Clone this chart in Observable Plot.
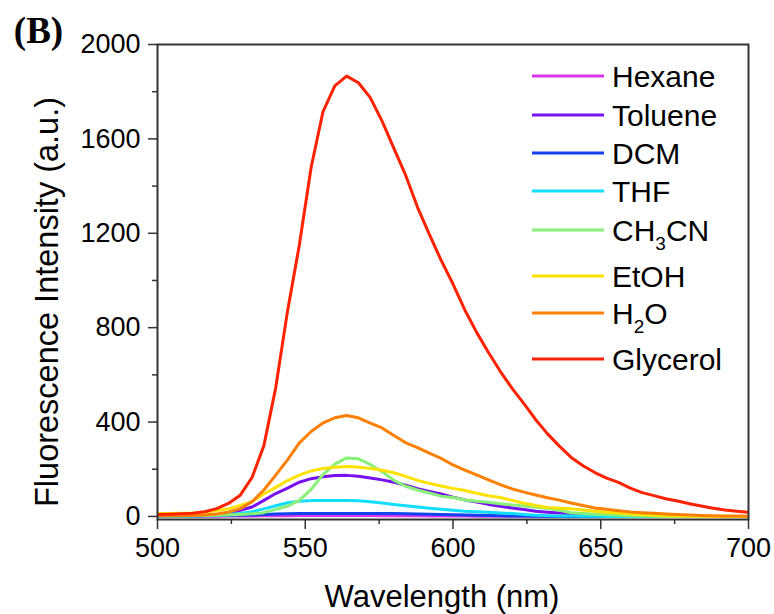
<!DOCTYPE html>
<html><head><meta charset="utf-8">
<script src="https://cdn.jsdelivr.net/npm/d3@7"></script>
<script src="https://cdn.jsdelivr.net/npm/@observablehq/plot@0.6"></script>
<style>
body{margin:0;background:#fff;}
#wrap{position:relative;width:774px;height:614px;}
</style>
</head><body><div id="wrap"></div>
<script>
const wavelengths = [500,504,508,512,516,520,524,528,532,536,540,544,548,552,556,560,564,568,572,576,580,584,588,592,596,600,604,608,612,616,620,624,628,632,636,640,644,648,652,656,660,664,668,672,676,680,684,688,692,696,700];
const hexane   = [0,0,1,1,1,1,2,2,2,3, 3,3,4,4,4,4,4,4,4,3, 3,3,3,2,2,2,2,1,1,1, 1,1,1,0,0,0,0,0,0,0, 0,0,0,0,0,0,0,0,0,0, 0];
const toluene  = [2,2,2,2,3,7,14,26,40,68, 97,120,145,160,168,173,174,170,163,155, 145,132,118,106,95,82,70,61,51,43, 36,29,22,18,15,12,9,7,5,4, 3,2,1,1,0,0,0,0,0,0, 0];
const dcm      = [2,2,2,2,3,3,4,5,6,8, 10,11,12,12,12,12,12,12,12,12, 12,11,10,9,8,7,6,5,4,3, 2,2,1,1,0,0,0,0,0,0, 0,0,0,0,0,0,0,0,0,0, 0];
const thf      = [1,1,1,2,3,5,8,12,20,32, 45,58,64,67,68,68,68,66,62,57, 51,45,40,35,30,26,22,20,18,15, 12,8,5,3,2,2,1,1,0,0, 0,0,0,0,0,0,0,0,0,0, 0];
const ch3cn    = [3,3,3,3,4,5,6,8,11,16, 30,44,68,115,177,222,248,244,220,190, 153,128,112,99,86,80,70,64,60,54, 49,44,39,34,26,16,12,9,7,5, 3,2,1,0,0,0,0,0,0,0, 0];
const etoh     = [12,12,13,15,19,25,32,47,63,95, 123,152,175,193,203,208,212,209,203,196, 185,170,153,140,129,119,110,98,88,80, 68,56,46,38,35,33,27,22,18,14, 10,7,5,3,2,1,1,0,0,0, 0];
const h2o      = [3,3,3,4,6,10,18,33,62,112, 175,240,312,360,396,418,428,418,395,375, 343,312,292,268,246,218,196,176,155,135, 117,103,91,79,69,57,46,36,30,24, 19,16,13,10,8,6,4,3,2,2, 1];
const glycerol = [8,9,11,14,20,33,55,90,165,300, 545,870,1150,1480,1715,1825,1866,1838,1775,1675, 1560,1445,1310,1195,1085,985,875,780,695,615, 543,478,410,350,298,250,215,186,162,144, 120,101,88,75,65,54,44,35,27,22, 18];

const seriesNames = ["Hexane","Toluene","DCM","THF","CH3CN","EtOH","H2O","Glycerol"];
const seriesValues = [hexane,toluene,dcm,thf,ch3cn,etoh,h2o,glycerol];
const seriesColors = ["#DD33EE","#7711EE","#1144EE","#11DDFF","#88F077","#FFE100","#FF8000","#FF2200"];

const xMajor = [500,550,600,650,700];
const xMinor = [525,575,625,675];
const yMajor = [0,400,800,1200,1600,2000];
const yMinor = [200,600,1000,1400,1800];
const xTitle = "Wavelength (nm)";
const yTitle = "Fluorescence Intensity (a.u.)";
const panelLabel = "(B)";

const rows = [];
seriesNames.forEach((n, k) => wavelengths.forEach((w, i) => rows.push({w, v: seriesValues[k][i], name: n})));

const FONT = "'Liberation Sans', Arial, sans-serif";
const chart = Plot.plot({
  width: 774, height: 614,
  marginLeft: 157, marginRight: 26, marginTop: 44, marginBottom: 95,
  x: {domain: [500, 700]},
  y: {domain: [-13, 2000]},
  color: {domain: seriesNames, range: seriesColors},
  style: {fontFamily: FONT, fontSize: "27px", color: "#000", background: "#fff"},
  marks: [
    Plot.line(rows, {x: "w", y: "v", z: "name", stroke: "name", strokeWidth: 3, clip: true, strokeLinejoin: "round"}),
    Plot.axisX({ticks: xMajor, tickSize: 10, tickPadding: 8, fontSize: 27, label: null, stroke: "#333", strokeWidth: 1.5, tickFormat: d => String(d)}),
    Plot.axisX({ticks: xMinor, tickSize: 5, text: null, label: null, stroke: "#333", strokeWidth: 1.5}),
    Plot.axisY({ticks: yMajor, tickSize: 9, tickPadding: 8, fontSize: 27, label: null, stroke: "#333", strokeWidth: 1.5, tickFormat: d => String(d)}),
    Plot.axisY({ticks: yMinor, tickSize: 5, text: null, label: null, stroke: "#333", strokeWidth: 1.5}),
    Plot.frame({stroke: "#333", strokeWidth: 2}),
    Plot.text([xTitle], {text: d => d, frameAnchor: "bottom", dx: -11, dy: 78, fontSize: 31, textAnchor: "middle", lineAnchor: "middle", fill: "#000"}),
    Plot.text([yTitle], {text: d => d, frameAnchor: "left", rotate: -90, dx: -110, dy: 20, fontSize: 32.5, textAnchor: "middle", lineAnchor: "middle", fill: "#000"}),
    Plot.text([panelLabel], {text: d => d, frameAnchor: "top-left", dx: -119, dy: -13, fontSize: 37, fontWeight: "bold", fontFamily: "'Liberation Serif', 'Times New Roman', serif", textAnchor: "middle", lineAnchor: "middle", fill: "#000"})
  ]
});
document.getElementById("wrap").appendChild(chart);

// legend
const legendY = [76, 115, 153, 191, 230, 276, 313, 359];
const svg = d3.select(chart);
const g = svg.append("g").attr("font-family", FONT).attr("font-size", 30).attr("text-anchor", "start");
seriesNames.forEach((n, k) => {
  const cy = legendY[k];
  g.append("line").attr("x1", 532).attr("x2", 604).attr("y1", cy).attr("y2", cy)
    .attr("stroke", seriesColors[k]).attr("stroke-width", 3);
  const t = g.append("text").attr("x", 612).attr("y", cy + 10.8).attr("fill", "#000").attr("text-anchor", "start");
  const m = n.match(/^([A-Za-z]+?)(\d)(.*)$/);
  if (m && (n === "CH3CN" || n === "H2O")) {
    t.append("tspan").text(m[1]);
    t.append("tspan").attr("font-size", 19).attr("dy", 9).text(m[2]);
    t.append("tspan").attr("dy", -9).text(m[3]);
  } else {
    t.text(n);
  }
});
</script>
</body></html>
